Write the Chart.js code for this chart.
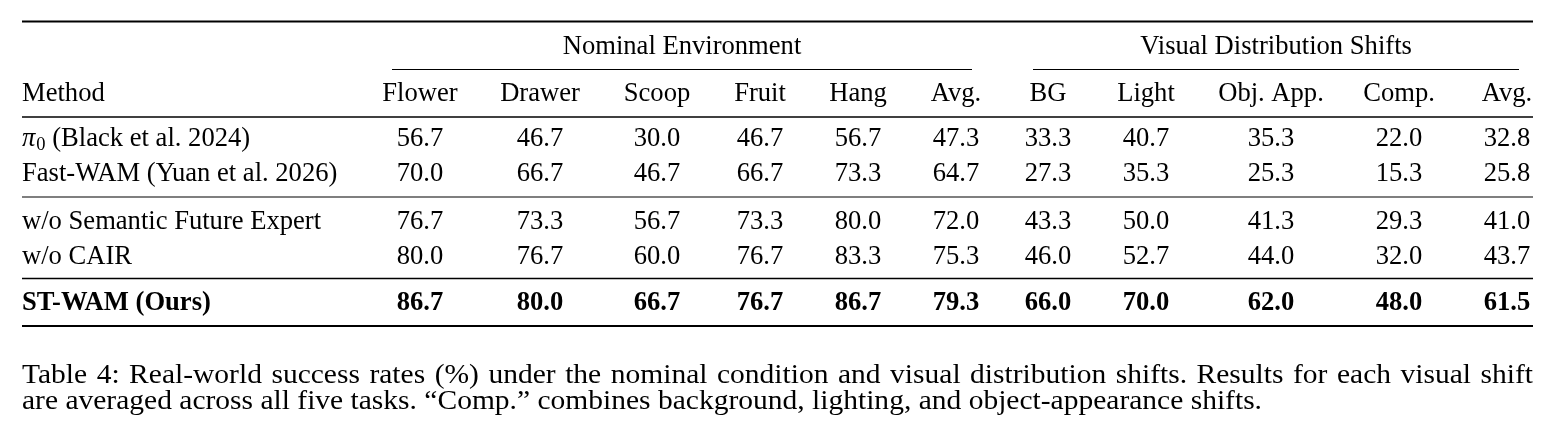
<!DOCTYPE html>
<html>
<head>
<meta charset="utf-8">
<script src="https://cdn.jsdelivr.net/npm/chart.js@4.4.1/dist/chart.umd.min.js"></script>
<style>
  html, body { margin: 0; padding: 0; background: #ffffff; }
  #wrap { width: 1555px; height: 439px; }
</style>
</head>
<body>
<div id="wrap"><canvas id="c" width="1555" height="439"></canvas></div>
<script>
// ---------- DATA ----------
const groups = ['Nominal Environment', 'Visual Distribution Shifts'];
const nominalCols = ['Flower', 'Drawer', 'Scoop', 'Fruit', 'Hang', 'Avg.'];
const shiftCols = ['BG', 'Light', 'Obj. App.', 'Comp.', 'Avg.'];
const methodHeader = 'Method';
const methods = ['π0 (Black et al. 2024)', 'Fast-WAM (Yuan et al. 2026)', 'w/o Semantic Future Expert', 'w/o CAIR', 'ST-WAM (Ours)'];
const pi0 =     [56.7, 46.7, 30.0, 46.7, 56.7, 47.3, 33.3, 40.7, 35.3, 22.0, 32.8];
const fastWam = [70.0, 66.7, 46.7, 66.7, 73.3, 64.7, 27.3, 35.3, 25.3, 15.3, 25.8];
const woSFE =   [76.7, 73.3, 56.7, 73.3, 80.0, 72.0, 43.3, 50.0, 41.3, 29.3, 41.0];
const woCAIR =  [80.0, 76.7, 60.0, 76.7, 83.3, 75.3, 46.0, 52.7, 44.0, 32.0, 43.7];
const stWam =   [86.7, 80.0, 66.7, 76.7, 86.7, 79.3, 66.0, 70.0, 62.0, 48.0, 61.5];
const boldRow = 4;
const captionLines = [
  'Table 4: Real-world success rates (%) under the nominal condition and visual distribution shifts. Results for each visual shift',
  'are averaged across all five tasks. \u201CComp.\u201D combines background, lighting, and object-appearance shifts.'
];

// ---------- LAYOUT (scale units) ----------
const LEFT = 22, RIGHT = 1533;
const COL_X = [420, 540, 657, 760, 858, 956, 1048, 1146, 1271, 1399, 1507];
const GROUP_SPAN = [[392, 972], [1033, 1519]];
const GROUP_Y = 54, HEAD_Y = 101;
const ROW_Y = [146, 181, 229, 264, 310];
const RULES = [ // [y, width, x0, x1]
  [21.5, 2.2, LEFT, RIGHT],
  [117, 1.3, LEFT, RIGHT],
  [197, 1.1, LEFT, RIGHT],
  [278.5, 1.3, LEFT, RIGHT],
  [326, 2.2, LEFT, RIGHT]
];
const CMID_Y = 69.5;
const CAP_Y = [383, 409];
const CAP_LAST_END = 1262;

const FONT = '"Liberation Serif", Tinos, "Times New Roman", Times, serif';
const FS = 26.6;
const CAP_FS = 28;

const rows = [pi0, fastWam, woSFE, woCAIR, stWam];

const datasets = rows.map((vals, r) => ({
  label: methods[r],
  data: vals.map((v, i) => ({ x: COL_X[i], y: ROW_Y[r], v })),
  pointRadius: 0,
  pointHoverRadius: 0,
  showLine: false
}));

const tablePlugin = {
  id: 'tablePlugin',
  afterDatasetsDraw(chart) {
    const ctx = chart.ctx;
    const xs = chart.scales.x, ys = chart.scales.y;
    const X = v => xs.getPixelForValue(v);
    const Y = v => ys.getPixelForValue(v);
    ctx.save();
    ctx.fillStyle = '#000';
    ctx.strokeStyle = '#000';
    ctx.textBaseline = 'alphabetic';

    RULES.forEach(([y, w, x0, x1]) => {
      ctx.lineWidth = w;
      ctx.beginPath();
      ctx.moveTo(X(x0), Y(y));
      ctx.lineTo(X(x1), Y(y));
      ctx.stroke();
    });
    ctx.lineWidth = 1.1;
    GROUP_SPAN.forEach(([a, b]) => {
      ctx.beginPath();
      ctx.moveTo(X(a), Y(CMID_Y));
      ctx.lineTo(X(b), Y(CMID_Y));
      ctx.stroke();
    });

    ctx.font = FS + 'px ' + FONT;
    ctx.textAlign = 'center';
    groups.forEach((g, i) => {
      const [a, b] = GROUP_SPAN[i];
      ctx.fillText(g, X((a + b) / 2), Y(GROUP_Y));
    });

    const heads = nominalCols.concat(shiftCols);
    heads.forEach((h, i) => ctx.fillText(h, X(COL_X[i]), Y(HEAD_Y)));
    ctx.textAlign = 'left';
    ctx.fillText(methodHeader, X(LEFT), Y(HEAD_Y));

    chart.data.datasets.forEach((ds, r) => {
      const bold = r === boldRow;
      const f = (bold ? 'bold ' : '') + FS + 'px ' + FONT;
      ctx.font = f;
      ctx.textAlign = 'left';
      const label = ds.label;
      const yPix = Y(ROW_Y[r]);
      if (label.startsWith('π0')) {
        let x = X(LEFT);
        ctx.font = 'italic ' + FS + 'px ' + FONT;
        ctx.fillText('π', x, yPix);
        x += ctx.measureText('π').width + 1;
        ctx.font = '18.5px ' + FONT;
        ctx.fillText('0', x, yPix + 4);
        x += ctx.measureText('0').width;
        ctx.font = f;
        ctx.fillText(label.slice(2), x, yPix);
      } else {
        ctx.fillText(label, X(LEFT), yPix);
      }
      ctx.textAlign = 'center';
      const meta = chart.getDatasetMeta(r);
      meta.data.forEach((pt, i) => {
        ctx.fillText(ds.data[i].v.toFixed(1), pt.x, pt.y);
      });
    });

    // caption: condensed type, first line justified
    ctx.font = CAP_FS + 'px ' + FONT;
    ctx.textAlign = 'left';
    const last = captionLines[captionLines.length - 1];
    const sx = (X(CAP_LAST_END) - X(LEFT)) / ctx.measureText(last).width;
    captionLines.forEach((line, i) => {
      const y = Y(CAP_Y[i]);
      if (i === captionLines.length - 1) {
        ctx.save();
        ctx.translate(X(LEFT), y);
        ctx.scale(sx, 1);
        ctx.fillText(line, 0, 0);
        ctx.restore();
      } else {
        const words = line.split(' ');
        const ws = words.map(w => ctx.measureText(w).width * sx);
        const sum = ws.reduce((a, b) => a + b, 0);
        const gap = (X(RIGHT) - X(LEFT) - sum) / (words.length - 1);
        let x = X(LEFT);
        words.forEach((w, k) => {
          ctx.save();
          ctx.translate(x, y);
          ctx.scale(sx, 1);
          ctx.fillText(w, 0, 0);
          ctx.restore();
          x += ws[k] + gap;
        });
      }
    });
    ctx.restore();
  }
};

new Chart(document.getElementById('c'), {
  type: 'scatter',
  data: { datasets },
  options: {
    responsive: false,
    animation: false,
    devicePixelRatio: 1,
    layout: { padding: 0 },
    plugins: { legend: { display: false }, tooltip: { enabled: false } },
    events: [],
    scales: {
      x: { type: 'linear', min: 0, max: 1555, display: false },
      y: { type: 'linear', min: 0, max: 439, reverse: true, display: false }
    }
  },
  plugins: [tablePlugin]
});
</script>
</body>
</html>
